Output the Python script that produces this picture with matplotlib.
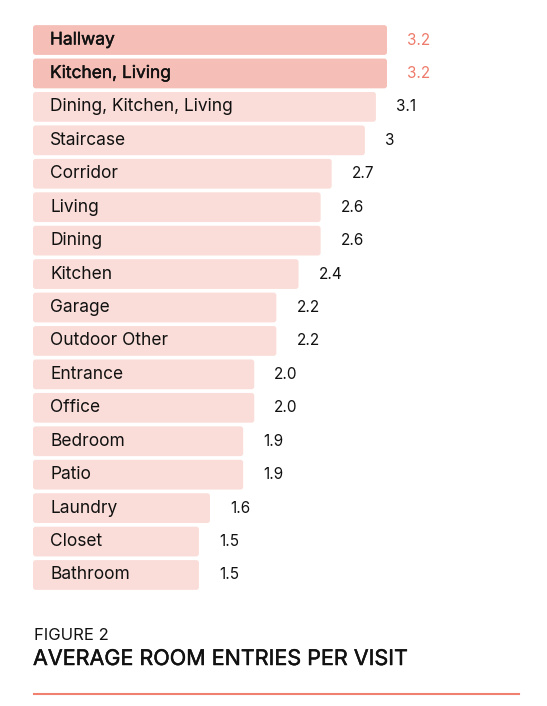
import matplotlib
matplotlib.use("Agg")
import matplotlib.pyplot as plt
import matplotlib.patheffects as pe
from matplotlib.patches import FancyBboxPatch
from matplotlib.lines import Line2D

rooms = ["Hallway", "Kitchen, Living", "Dining, Kitchen, Living", "Staircase", "Corridor",
         "Living", "Dining", "Kitchen", "Garage", "Outdoor Other", "Entrance", "Office",
         "Bedroom", "Patio", "Laundry", "Closet", "Bathroom"]
values = [3.2, 3.2, 3.1, 3.0, 2.7, 2.6, 2.6, 2.4, 2.2, 2.2, 2.0, 2.0, 1.9, 1.9, 1.6, 1.5, 1.5]
value_labels = ["3.2", "3.2", "3.1", "3", "2.7", "2.6", "2.6", "2.4", "2.2", "2.2",
                "2.0", "2.0", "1.9", "1.9", "1.6", "1.5", "1.5"]
highlight = [True, True] + [False] * 15

FONT = ["Inter", "DejaVu Sans"]
W, H = 547, 706
fig = plt.figure(figsize=(W / 100, H / 100), dpi=100)
fig.patch.set_facecolor("white")

x0, x1 = 33, 387
ytop, ybot = 23.3, 591.7
ax = fig.add_axes([x0 / W, 1 - ybot / H, (x1 - x0) / W, (ybot - ytop) / H])
ax.set_xlim(0, 3.2)
ax.set_ylim(len(rooms) - 0.5, -0.5)
ax.axis("off")

hl_col = "#F5BEB6"
base_col = "#FADDD8"
ypos = list(range(len(rooms)))
bars = ax.barh(ypos, values, height=0.89, left=0, color="none")
for rect, hl in zip(bars.patches, highlight):
    bx, by = rect.get_x(), rect.get_y()
    bw, bh = rect.get_width(), rect.get_height()
    fb = FancyBboxPatch((bx, by), bw, bh,
                        boxstyle="round,pad=0,rounding_size=0.025",
                        mutation_aspect=3.3,
                        facecolor=hl_col if hl else base_col, edgecolor="none")
    ax.add_patch(fb)
    rect.set_visible(False)

medium = [pe.withStroke(linewidth=0.3, foreground="#111111")]
px = 3.2 / (x1 - x0)
for i, (name, v, lab, hl) in enumerate(zip(rooms, values, value_labels, highlight)):
    ax.text(17 * px, i, name, va="center", ha="left", fontsize=12.5,
            family=FONT, color="#111111", path_effects=medium if hl else None)
    ax.text(v + 20 * px, i, lab, va="center", ha="left", fontsize=11,
            family=FONT, color="#EE7B6B" if hl else "#111111")

fig.text(34 / W, 1 - 635 / H, "FIGURE 2", fontsize=12, family=FONT,
         color="#111111", va="center", ha="left")
fig.text(33 / W, 1 - 659 / H, "AVERAGE ROOM ENTRIES PER VISIT", fontsize=15.5,
         family=FONT, color="#111111", va="center", ha="left",
         path_effects=[pe.withStroke(linewidth=0.35, foreground="#111111")])
fig.add_artist(Line2D([34 / W, 519 / W], [1 - 693.5 / H, 1 - 693.5 / H],
                      color="#F08070", linewidth=1.5))

fig.savefig("out.png", dpi=100, facecolor="white")
